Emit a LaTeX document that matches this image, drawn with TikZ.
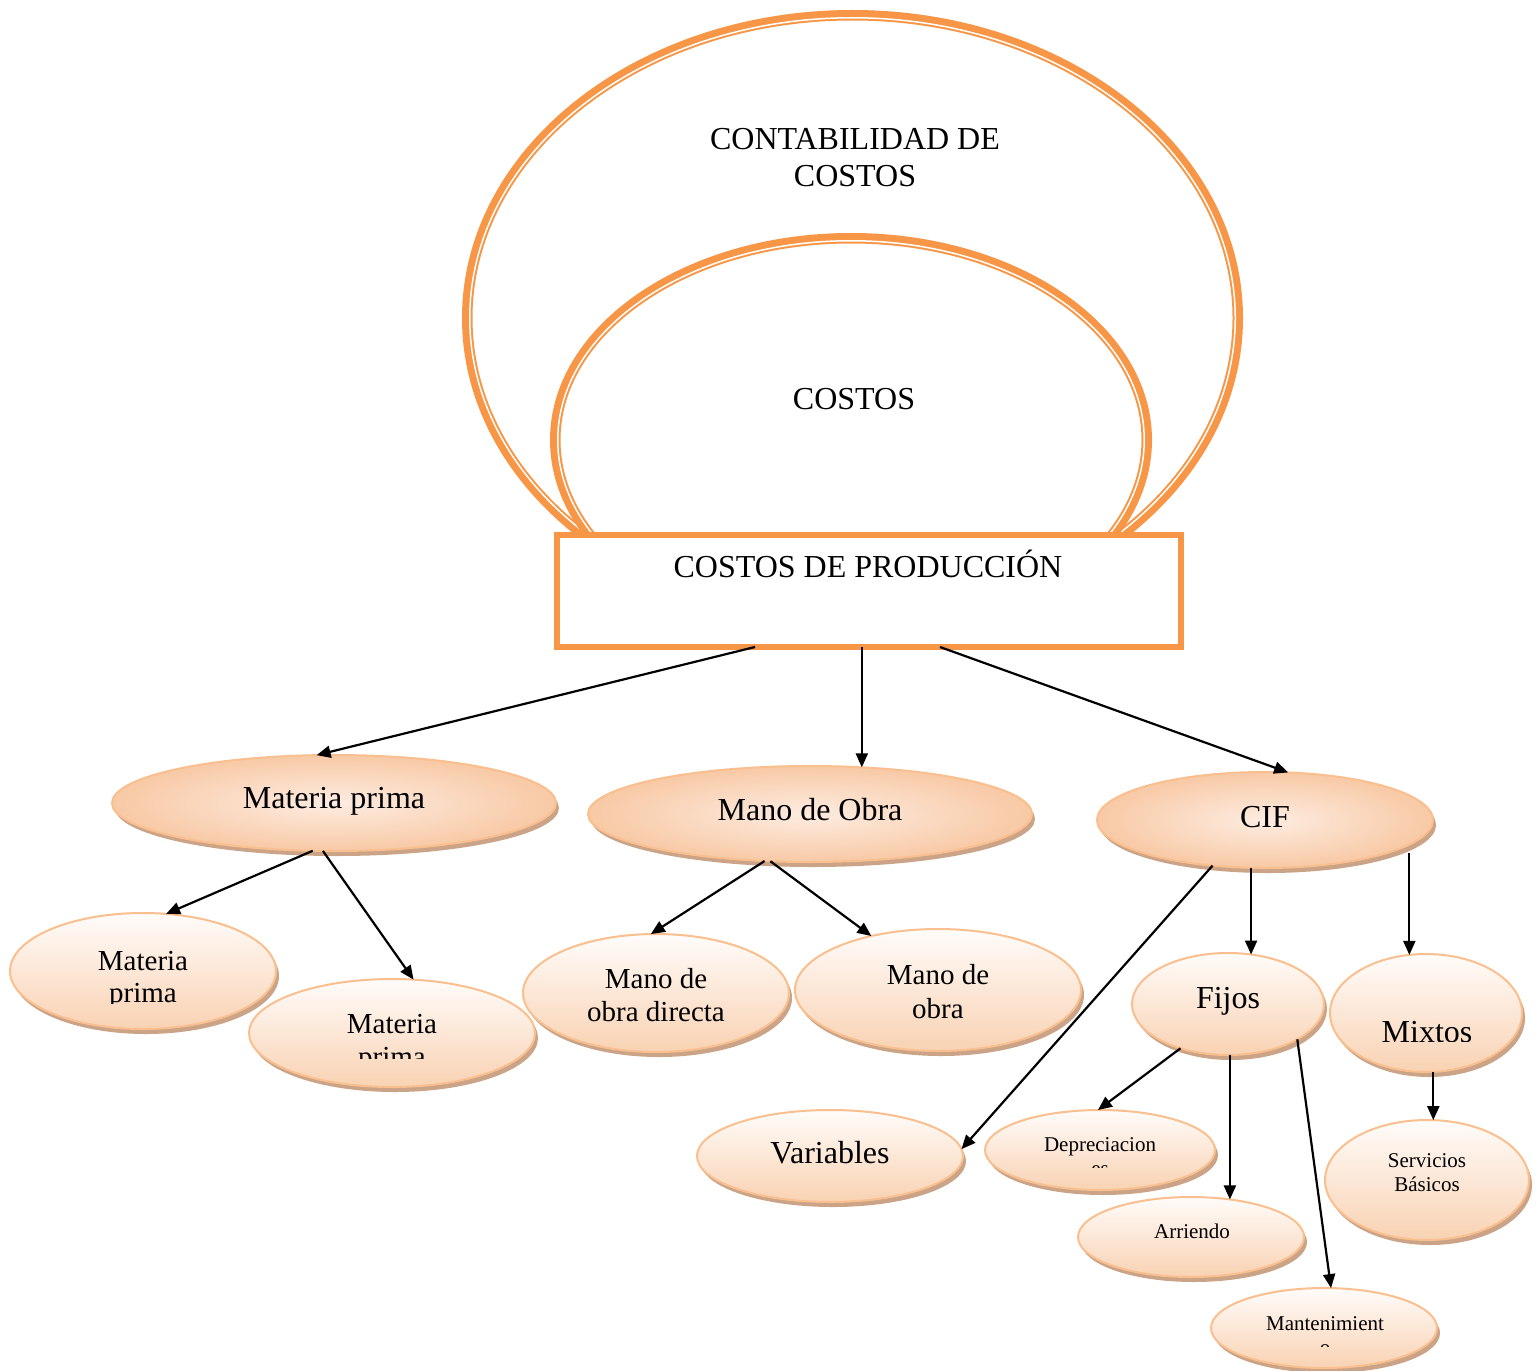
\documentclass[tikz,border=0pt]{standalone}
\usepackage{fontspec}
\setmainfont{Liberation Serif}
\usetikzlibrary{shapes.geometric,arrows.meta,shadows}
\definecolor{accent}{HTML}{F79646}
\definecolor{rim}{HTML}{F9BF8F}
\definecolor{lighttop}{HTML}{FFFCFA}
\definecolor{peach}{HTML}{F9D2B3}
\definecolor{core}{HTML}{FDECE1}
\definecolor{edgepeach}{HTML}{F8C9A5}
\definecolor{dropbrown}{HTML}{CBA386}
\newcommand\fsA{\fontsize{32}{37}\selectfont}
\newcommand\fsB{\fontsize{29}{33}\selectfont}
\newcommand\fsC{\fontsize{21}{24}\selectfont}
\begin{document}
\begin{tikzpicture}[x=1pt,y=-1pt,
  bubble/.style={ellipse, draw=rim, line width=2pt, inner sep=0pt, outer sep=0pt,
    top color=lighttop, bottom color=peach,
    drop shadow={shadow xshift=3pt, shadow yshift=-5pt, opacity=1, fill=dropbrown}},
  mainbubble/.style={bubble, inner color=core, outer color=edgepeach},
  sz/.style 2 args={minimum width=#1pt, minimum height=#2pt},
  lbl/.style={anchor=base, inner sep=0pt, outer sep=0pt},
  link/.style={draw=black, line width=2.2pt, -{Triangle[length=14pt,width=12pt]}},
]
\useasboundingbox[fill=white] (0,0) rectangle (1538,1370);

% nested orange ellipses: thick stroke with a thin inner line
\draw[accent, line width=10.5pt] (852.5,318) ellipse [x radius=385.25, y radius=302.75];
\draw[white, line width=1.5pt] (852.5,318) ellipse [x radius=382.75, y radius=300.25];
\draw[accent, line width=10.5pt] (851,440) ellipse [x radius=295.75, y radius=201.75];
\draw[white, line width=1.5pt] (851,440) ellipse [x radius=293.25, y radius=199.25];

\node[lbl, font=\fsA] (cc1) at (855,149) {CONTABILIDAD DE};
\node[lbl, font=\fsA] (cc2) at (855,186) {COSTOS};
\node[lbl, font=\fsA] (cs) at (854,409) {COSTOS};

% production box
\node[draw=accent, line width=6pt, fill=white, inner sep=0pt, outer sep=0pt,
  minimum width=624pt, minimum height=112pt] (prod) at (868.5,591) {};
\node[lbl, font=\fsA] (prodtxt) at (868,577) {COSTOS DE PRODUCCIÓN};

% first level
\node[mainbubble, sz={444}{96}] (mp) at (334,803) {};
\node[mainbubble, sz={444}{96}] (mo) at (810,814) {};
\node[mainbubble, sz={336}{96}] (cif) at (1265,820) {};
\node[lbl, font=\fsA] (mptxt) at (334,808) {Materia prima};
\node[lbl, font=\fsA] (motxt) at (810,820) {Mano de Obra};
\node[lbl, font=\fsA] (ciftxt) at (1265,827) {CIF};

% second level
\node[bubble, sz={266}{116}] (c1) at (143,971) {};
\node[bubble, sz={286}{108}] (c2) at (392,1033) {};
\node[bubble, sz={266}{118}] (mod) at (656,993) {};
\node[bubble, sz={286}{122}] (mo2) at (938,990) {};
\node[bubble, sz={192}{102}] (fijos) at (1228,1004) {};
\node[bubble, sz={192}{118}] (mixtos) at (1426,1013) {};
\node[bubble, sz={266}{92}] (var) at (830,1156) {};

\node[lbl, font=\fsB] (c1a) at (143,970) {Materia};
\begin{scope}
  \clip (0,975) rectangle (300,1003);
  \node[lbl, font=\fsB] (c1b) at (143,1002) {prima};
\end{scope}
\node[lbl, font=\fsB] (c2a) at (392,1033) {Materia};
\begin{scope}
  \clip (240,1038) rectangle (540,1058);
  \node[lbl, font=\fsB] (c2b) at (392,1066) {prima};
\end{scope}
\node[lbl, font=\fsB] (moda) at (656,988) {Mano de};
\node[lbl, font=\fsB] (modb) at (656,1021) {obra directa};
\node[lbl, font=\fsB] (mo2a) at (938,984) {Mano de};
\node[lbl, font=\fsB] (mo2b) at (938,1018) {obra};
\node[lbl, font=\fsA] (fijostxt) at (1228,1008) {Fijos};
\begin{scope}
  \clip (1330,1000) rectangle (1520,1041);
  \node[lbl, font=\fsA] (mixtostxt) at (1427,1042) {Mixtos};
\end{scope}
\node[lbl, font=\fsA] (vartxt) at (830,1163) {Variables};

% third level
\node[bubble, sz={230}{80}] (dep) at (1100,1150) {};
\node[bubble, sz={226}{80}] (arriendo) at (1191,1237) {};
\node[bubble, sz={226}{80}] (man) at (1324,1328) {};
\node[bubble, sz={204}{120}] (serv) at (1427,1180) {};

\node[lbl, font=\fsC] (depa) at (1100,1151) {Depreciacion};
\begin{scope}
  \clip (1000,1160) rectangle (1200,1167);
  \node[lbl, font=\fsC] (depb) at (1100,1175) {es};
\end{scope}
\node[lbl, font=\fsC] (arrtxt) at (1192,1238) {Arriendo};
\node[lbl, font=\fsC] (mana) at (1325,1330) {Mantenimient};
\begin{scope}
  \clip (1250,1336) rectangle (1400,1346);
  \node[lbl, font=\fsC] (manb) at (1325,1354) {o};
\end{scope}
\node[lbl, font=\fsC] (serva) at (1427,1167) {Servicios};
\node[lbl, font=\fsC] (servb) at (1427,1191) {Básicos};

% connectors
\draw[link] ([xshift=-113.5pt]prod.south) -- (mp.110);
\draw[link] (mo.42 |- prod.south) -- (mo.42);
\draw[link] ([xshift=71.5pt]prod.south) -- (cif.64);
\draw[link] (mp.246) -- (c1.68);
\draw[link] (mp.257) -- (c2.68);
\draw[link] (mo.226) -- (mod.95);
\draw[link] (mo.230) -- (mo2.141);
\draw[link] (cif.221) -- (var.3);
\draw[link] (cif.south -| fijos.65) -- (fijos.65);
\draw[link] (cif.-15 -| mixtos.106) -- (mixtos.106);
\draw[link] (fijos.223) -- (dep.93);
\draw[link] (fijos.south -| arriendo.44) -- (arriendo.44);
\draw[link] (fijos.-27) -- (man.80);
\draw[link] (mixtos.south -| serv.84) -- (serv.84);
\end{tikzpicture}
\end{document}
